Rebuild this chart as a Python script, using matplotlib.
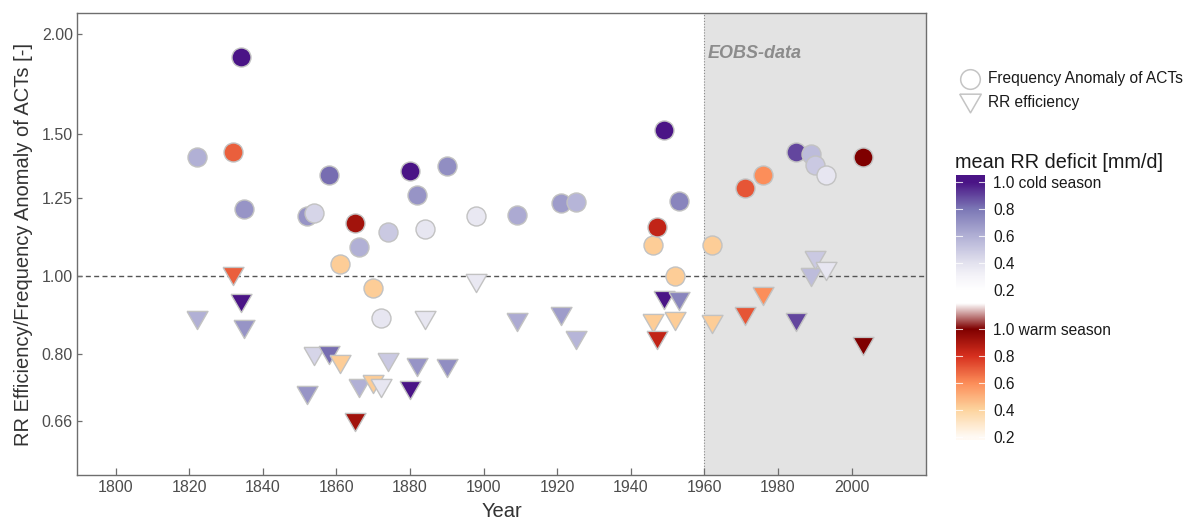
import numpy as np
import matplotlib
matplotlib.use("Agg")
import matplotlib.pyplot as plt
from matplotlib.colors import LinearSegmentedColormap
from matplotlib.ticker import NullLocator, FixedLocator, FixedFormatter

plt.rcParams['font.family'] = ['Liberation Sans', 'DejaVu Sans']

# --- event data -------------------------------------------------------------
years = [1822, 1832, 1834, 1835, 1852, 1854, 1858, 1861, 1865, 1866,
         1870, 1872, 1874, 1880, 1882, 1884, 1890, 1898, 1909, 1921,
         1925, 1946, 1947, 1949, 1952, 1953, 1962, 1971, 1976, 1985,
         1989, 1990, 1993, 2003]

freq_anomaly = [1.406, 1.426, 1.873, 1.212, 1.188, 1.198, 1.336, 1.035, 1.164, 1.087,
                0.966, 0.887, 1.134, 1.351, 1.261, 1.144, 1.370, 1.189, 1.191, 1.234,
                1.237, 1.093, 1.151, 1.519, 1.000, 1.240, 1.093, 1.287, 1.336, 1.426,
                1.419, 1.374, 1.336, 1.406]

rr_efficiency = [0.882, 1.000, 0.925, 0.858, 0.711, 0.794, 0.797, 0.777, 0.658, 0.725,
                 0.734, 0.725, 0.782, 0.721, 0.771, 0.882, 0.768, 0.980, 0.876, 0.892,
                 0.833, 0.873, 0.833, 0.934, 0.879, 0.931, 0.871, 0.892, 0.944, 0.875,
                 0.998, 1.047, 1.015, 0.817]

rr_deficit = [0.60, 0.70, 1.00, 0.70, 0.70, 0.45, 0.82, 0.42, 0.92, 0.60,
              0.42, 0.38, 0.50, 1.00, 0.70, 0.38, 0.72, 0.37, 0.62, 0.67,
              0.58, 0.42, 0.85, 1.00, 0.42, 0.75, 0.42, 0.72, 0.60, 0.90,
              0.55, 0.50, 0.38, 1.00]

season = ['cold', 'warm', 'cold', 'cold', 'cold', 'cold', 'cold', 'warm', 'warm', 'cold',
          'warm', 'cold', 'cold', 'cold', 'cold', 'cold', 'cold', 'cold', 'cold', 'cold',
          'cold', 'warm', 'warm', 'cold', 'warm', 'cold', 'warm', 'warm', 'warm', 'cold',
          'cold', 'cold', 'cold', 'warm']

y_ticks = [0.66, 0.80, 1.00, 1.25, 1.50, 2.00]
y_tick_labels = ["0.66", "0.80", "1.00", "1.25", "1.50", "2.00"]
x_ticks = [1800, 1820, 1840, 1860, 1880, 1900, 1920, 1940, 1960, 1980, 2000]
eobs_start = 1960
cbar_ticks = [0.2, 0.4, 0.6, 0.8, 1.0]
cbar_cold_labels = ["0.2", "0.4", "0.6", "0.8", "1.0 cold season"]
cbar_warm_labels = ["0.2", "0.4", "0.6", "0.8", "1.0 warm season"]

# --- colour scales --------------------------------------------------------
cold_cmap = LinearSegmentedColormap.from_list(
    'cold', [(0.0, '#ffffff'), (0.125, '#f5f4f9'), (0.25, '#e3e2ef'),
             (0.5, '#b1b0d5'), (0.75, '#7c78b6'), (1.0, '#4a1486')])
warm_cmap = LinearSegmentedColormap.from_list(
    'warm', [(0.0, '#fffaf4'), (0.25, '#fdd49e'), (0.5, '#fc8d59'),
             (0.75, '#d7301f'), (1.0, '#7f0000')])

VMIN, VMAX = 0.2, 1.0


def deficit_colour(v, s):
    p = np.clip((v - VMIN) / (VMAX - VMIN), 0, 1)
    return cold_cmap(p) if s == 'cold' else warm_cmap(p)


colours = [deficit_colour(v, s) for v, s in zip(rr_deficit, season)]

# equilateral downward triangle (ggplot-like)
tri_down = [(-1, 0.866), (1, 0.866), (0, -0.866), (-1, 0.866)]

# --- figure ----------------------------------------------------------------
fig = plt.figure(figsize=(11.98, 5.21), dpi=100)
ax = fig.add_axes([77 / 1198, 1 - 475 / 521, (926 - 77) / 1198, (475 - 13) / 521])

ax.set_yscale('log')
ax.set_xlim(1789.5, 2020.2)
ax.set_ylim(0.565, 2.125)

ax.axvspan(eobs_start, 2100, color='#e3e3e3', zorder=0, lw=0)
ax.axvline(eobs_start, color='#8a8a8a', lw=0.8, ls=(0, (1, 1.6)), zorder=1)
ax.axhline(1.0, color='#555555', lw=1.0, ls=(0, (3.6, 2.4)), zorder=1)

edge = '#c2c2c2'
for x, y, c in zip(years, freq_anomaly, colours):
    ax.scatter([x], [y], s=187, marker='o', facecolor=c, edgecolor=edge,
               linewidth=1.0, zorder=3)
for x, y, c in zip(years, rr_efficiency, colours):
    ax.scatter([x], [y], s=228, marker=tri_down, facecolor=c, edgecolor=edge,
               linewidth=1.0, zorder=3)

ax.text(eobs_start + 0.8, 0.9026, 'EOBS-data', transform=ax.get_xaxis_transform(),
        fontsize=13, fontweight='bold', fontstyle='italic', color='#8c8c8c',
        ha='left', va='baseline')

ax.yaxis.set_major_locator(FixedLocator(y_ticks))
ax.yaxis.set_major_formatter(FixedFormatter(y_tick_labels))
ax.yaxis.set_minor_locator(NullLocator())
ax.set_xticks(x_ticks)
ax.tick_params(axis='both', direction='in', colors='#6e6e6e', labelcolor='#4d4d4d',
               labelsize=11.5, width=0.9)
ax.tick_params(axis='y', length=3.5, pad=3)
ax.tick_params(axis='x', length=4.8, pad=3.5)
for sp in ax.spines.values():
    sp.set_color('#6e6e6e')
    sp.set_linewidth(1.0)

ax.set_ylabel('RR Efficiency/Frequency Anomaly of ACTs [-]', fontsize=14.5,
              color='#333333')
ax.yaxis.set_label_coords(-0.052, 0.5)
ax.set_xlabel('Year', fontsize=14.5, color='#333333')
ax.xaxis.set_label_coords(0.5, -0.058)

# --- legend ------------------------------------------------------------------
overlay = fig.add_axes([0, 0, 1, 1])
overlay.set_xlim(0, 1198)
overlay.set_ylim(521, 0)
overlay.axis('off')
overlay.scatter([970], [79], s=200, marker='o', facecolor='white',
                edgecolor='#c4c4c4', linewidth=1.1)
overlay.scatter([970], [103], s=240, marker=tri_down, facecolor='white',
                edgecolor='#c4c4c4', linewidth=1.1)
overlay.text(988, 79, 'Frequency Anomaly of ACTs', fontsize=11.2, color='#1a1a1a',
             va='center', ha='left')
overlay.text(988, 103, 'RR efficiency', fontsize=11.2, color='#1a1a1a',
             va='center', ha='left')
overlay.text(955, 168, 'mean RR deficit [mm/d]', fontsize=14.3, color='#1a1a1a',
             va='baseline', ha='left')

# --- combined colour bar (warm below, cold above) ---------------------------
COLD_OFFSET = 1.09
T_LO, T_HI = 0.178, 2.141
cax = fig.add_axes([956 / 1198, 1 - 440 / 521, 29 / 1198, 265 / 521])
t = np.linspace(T_LO, T_HI, 600)
rgba = np.ones((t.size, 4))
fade_top = 1.19
for i, tv in enumerate(t):
    if tv <= VMAX:
        rgba[i] = warm_cmap(np.clip((tv - VMIN) / (VMAX - VMIN), 0, 1))
    elif tv <= fade_top:
        f = (tv - VMAX) / (fade_top - VMAX)
        rgba[i] = (1 - f) * np.array(warm_cmap(1.0)) + f * np.ones(4)
    elif tv < VMIN + COLD_OFFSET:
        rgba[i] = (1, 1, 1, 1)
    else:
        rgba[i] = cold_cmap(np.clip((tv - COLD_OFFSET - VMIN) / (VMAX - VMIN), 0, 1))
cax.imshow(rgba[:, None, :], aspect='auto', origin='lower',
           extent=[0, 1, T_LO, T_HI], interpolation='bilinear')
cax.set_xlim(0, 1)
cax.set_ylim(T_LO, T_HI)
for sp in cax.spines.values():
    sp.set_visible(False)
cax.set_xticks([])
tick_pos = list(cbar_ticks) + [v + COLD_OFFSET for v in cbar_ticks]
tick_lab = cbar_warm_labels + cbar_cold_labels
cax.yaxis.tick_right()
cax.set_yticks(tick_pos)
cax.set_yticklabels(tick_lab)
cax.tick_params(axis='y', length=0, pad=6, labelsize=11.2, labelcolor='#1a1a1a')
for tp in tick_pos:
    cax.plot([0, 0.2], [tp, tp], color='white', lw=0.8, alpha=0.8)
    cax.plot([0.8, 1], [tp, tp], color='white', lw=0.8, alpha=0.8)

fig.savefig('out.png', dpi=100, facecolor='white')
